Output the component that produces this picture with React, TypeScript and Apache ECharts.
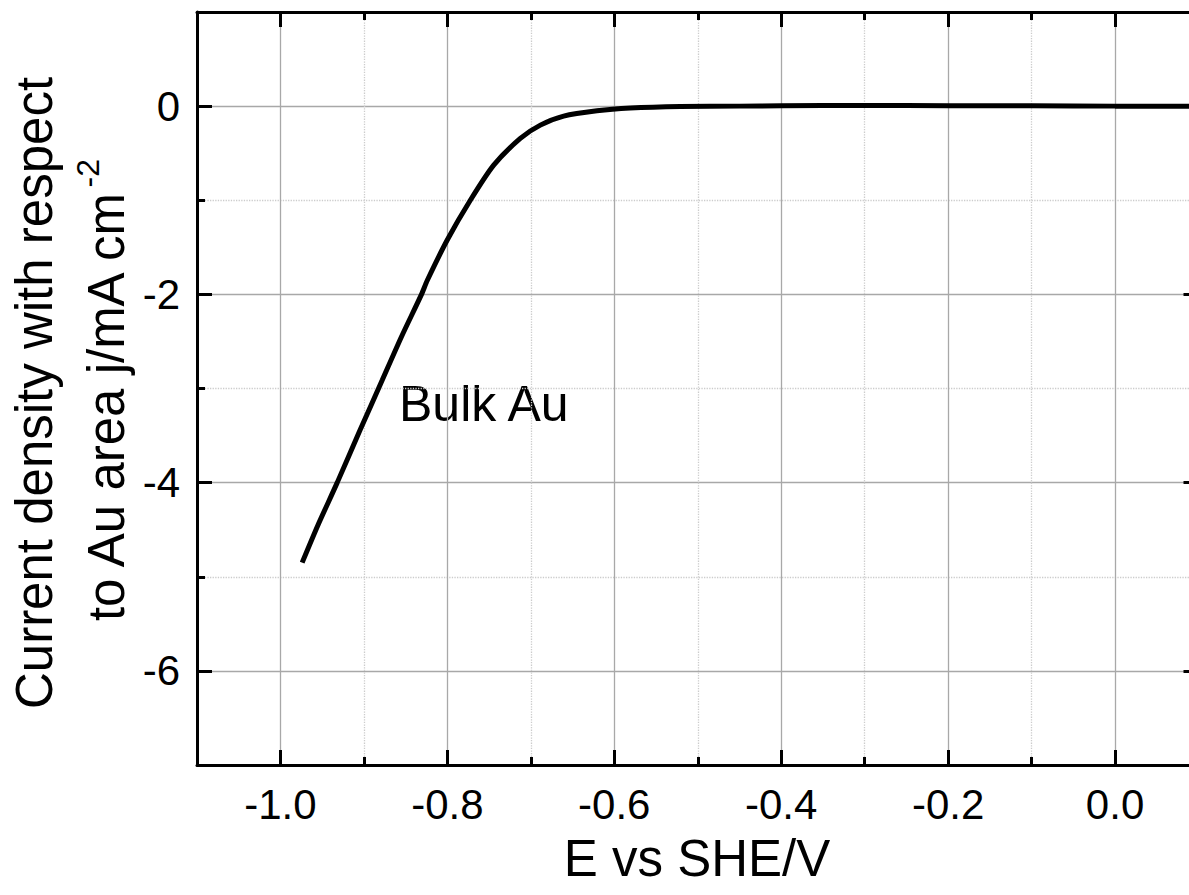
import React, { useEffect, useRef } from "react";
import * as echarts from "echarts";

// E vs SHE / V
const potential = [
  -0.974, -0.955, -0.932, -0.905, -0.878, -0.855, -0.831, -0.824, -0.80, -0.7725,
  -0.7445, -0.7126, -0.6886, -0.6607, -0.6208, -0.581, -0.521, -0.45, -0.4, -0.3,
  -0.2, -0.1, 0.0, 0.1,
];
// current density j / mA cm^-2
const current = [
  -4.85, -4.45, -4.0, -3.45, -2.91, -2.45, -2.0, -1.85, -1.42, -1.0,
  -0.627, -0.343, -0.202, -0.106, -0.05, -0.021, -0.004, 0.0, 0.004, 0.006,
  0.005, 0.003, 0.0, 0.0,
];

const xRange = [-1.1, 0.1];
const yRange = [-7, 1];
const seriesLabel = "Bulk Au";
const xTitle = "E vs SHE/V";
const yTitleLine1 = "Current density with respect";
const yTitleLine2 = "to Au area j/mA cm";
const yTitleSup = "-2";

const FONT = "Liberation Sans, Arial, sans-serif";

function measure(text: string, size: number) {
  const c = document.createElement("canvas").getContext("2d");
  if (!c) return text.length * size * 0.5;
  c.font = `${size}px "Liberation Sans", Arial, sans-serif`;
  return c.measureText(text).width;
}

export default function App() {
  const ref = useRef<HTMLDivElement>(null);
  useEffect(() => {
    if (!ref.current) return;
    const chart = echarts.init(ref.current, null, { renderer: "svg" });
    const gridLeft = 197;
    const gridTop = 12;
    const gridW = 1001.5;
    const gridH = 753;
    const titleSize = 51;
    const supSize = 32;
    const w1 = measure(yTitleLine2, titleSize);
    const w2 = measure(yTitleSup, supSize);
    const cy = 390;
    const start2 = cy + (w1 + w2) / 2;

    const axisLine = { show: true, onZero: false, lineStyle: { color: "#000", width: 3 } };
    const axisTick = { show: true, inside: true, length: 15, lineStyle: { color: "#000", width: 3 } };
    const minorTick = { show: true, splitNumber: 2, length: 8, lineStyle: { color: "#000", width: 3 } };
    const labelStyle = { fontSize: 42, color: "#000", fontFamily: FONT };

    chart.setOption({
      animation: false,
      backgroundColor: "#fff",
      grid: { left: gridLeft, top: gridTop, width: gridW, height: gridH, containLabel: false },
      xAxis: [
        {
          type: "value",
          min: xRange[0],
          max: xRange[1],
          splitNumber: 6,
          position: "bottom",
          axisLine,
          axisTick,
          minorTick,
          axisLabel: {
            ...labelStyle,
            margin: 18,
            showMinLabel: false,
            showMaxLabel: false,
            formatter: (v: number) => (Math.abs(v) < 1e-9 ? "0.0" : v.toFixed(1)),
          },
          splitLine: { show: true, lineStyle: { color: "#a8a8a8", width: 1.3 } },
          minorSplitLine: { show: true, lineStyle: { color: "#cccccc", width: 1.3, type: "dotted" } },
        },
        {
          type: "value",
          min: xRange[0],
          max: xRange[1],
          splitNumber: 6,
          position: "top",
          axisLine,
          axisTick,
          minorTick,
          axisLabel: { show: false },
          splitLine: { show: false },
        },
      ],
      yAxis: [
        {
          type: "value",
          min: yRange[0],
          max: yRange[1],
          splitNumber: 4,
          position: "left",
          axisLine,
          axisTick,
          minorTick,
          axisLabel: {
            ...labelStyle,
            margin: 17,
            showMinLabel: false,
            showMaxLabel: false,
            formatter: (v: number) => String(Math.round(v)),
          },
          splitLine: { show: true, lineStyle: { color: "#a8a8a8", width: 1.3 } },
          minorSplitLine: { show: true, lineStyle: { color: "#cccccc", width: 1.3, type: "dotted" } },
        },
        {
          type: "value",
          min: yRange[0],
          max: yRange[1],
          splitNumber: 4,
          position: "right",
          axisLine,
          axisTick,
          minorTick,
          axisLabel: { show: false },
          splitLine: { show: false },
        },
      ],
      series: [
        {
          name: seriesLabel,
          type: "line",
          xAxisIndex: 0,
          yAxisIndex: 0,
          data: potential.map((e, i) => [e, current[i]]),
          showSymbol: false,
          smooth: 0.25,
          lineStyle: { color: "#000", width: 5 },
          clip: true,
        },
      ],
      graphic: [
        {
          type: "text",
          x: 399,
          y: 404,
          style: {
            text: seriesLabel,
            fontSize: 50,
            fontFamily: FONT,
            fill: "#000",
            textAlign: "left",
            textVerticalAlign: "middle",
          },
        },
        {
          type: "text",
          x: 697,
          y: 858,
          style: {
            text: xTitle,
            fontSize: titleSize,
            fontFamily: FONT,
            fill: "#000",
            textAlign: "center",
            textVerticalAlign: "middle",
          },
        },
        {
          type: "text",
          x: 34,
          y: 393,
          rotation: Math.PI / 2,
          style: {
            text: yTitleLine1,
            fontSize: titleSize,
            fontFamily: FONT,
            fill: "#000",
            textAlign: "center",
            textVerticalAlign: "middle",
          },
        },
        {
          type: "text",
          x: 106,
          y: start2,
          rotation: Math.PI / 2,
          style: {
            text: yTitleLine2,
            fontSize: titleSize,
            fontFamily: FONT,
            fill: "#000",
            textAlign: "left",
            textVerticalAlign: "middle",
          },
        },
        {
          type: "text",
          x: 88,
          y: start2 - w1,
          rotation: Math.PI / 2,
          style: {
            text: yTitleSup,
            fontSize: supSize,
            fontFamily: FONT,
            fill: "#000",
            textAlign: "left",
            textVerticalAlign: "middle",
          },
        },
      ],
    });
    return () => chart.dispose();
  }, []);

  return (
    <div
      style={{
        position: "fixed",
        left: 0,
        top: 0,
        width: 1189,
        height: 895,
        overflow: "hidden",
        background: "#fff",
      }}
    >
      <div ref={ref} style={{ width: 1215, height: 895 }} />
    </div>
  );
}
